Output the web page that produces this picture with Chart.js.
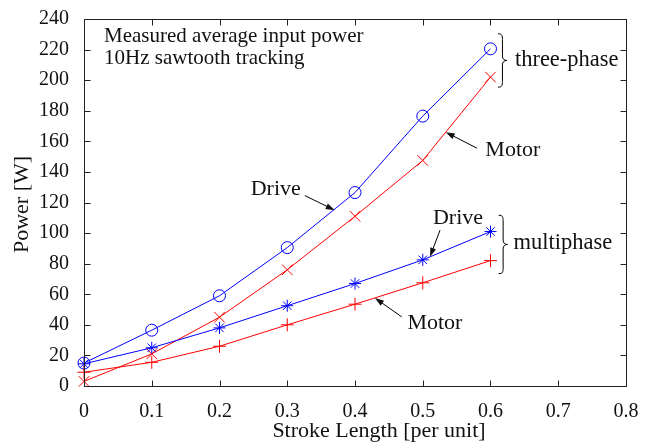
<!DOCTYPE html>
<html>
<head>
<meta charset="utf-8">
<script src="https://cdn.jsdelivr.net/npm/chart.js@4.4.1/dist/chart.umd.min.js"></script>
<style>
  html, body { margin: 0; padding: 0; background: #fff; }
  #wrap { width: 654px; height: 445px; }
</style>
</head>
<body>
<div id="wrap"><canvas id="powerChart" width="654" height="445"></canvas></div>
<script>
const strokeLength = [0, 0.1, 0.2, 0.3, 0.4, 0.5, 0.6];
const threePhaseDrive = [15, 36.5, 59, 90.5, 126.5, 176.5, 220.5];
const threePhaseMotor = [3, 21, 45, 76, 111, 147.5, 202];
const multiphaseDrive = [14.5, 25, 38, 52.5, 67, 82.5, 101];
const multiphaseMotor = [9, 15.5, 26, 40, 53.5, 67.5, 82];

const xTicks = [0, 0.1, 0.2, 0.3, 0.4, 0.5, 0.6, 0.7, 0.8];
const yTicks = [0, 20, 40, 60, 80, 100, 120, 140, 160, 180, 200, 220, 240];

const FONT = '"Liberation Serif", "DejaVu Serif", serif';
const FONT_SIZE = 20;

// annotation texts, arrows and braces (in data units)
const notes = [
    { text: 'Measured average input power', x: 0.0295, y: 228.4, align: 'left', size: 21 },
    { text: '10Hz sawtooth tracking', x: 0.0295, y: 214.2, align: 'left', size: 21 },
    { text: 'Drive', x: 0.283, y: 128.4, align: 'center', size: 22 },
    { text: 'Motor', x: 0.633, y: 154.2, align: 'center', size: 22 },
    { text: 'Drive', x: 0.552, y: 109.7, align: 'center', size: 22 },
    { text: 'Motor', x: 0.518, y: 41.3, align: 'center', size: 22 },
    { text: 'three-phase', x: 0.636, y: 212.9, align: 'left', size: 22.5 },
    { text: 'multiphase', x: 0.634, y: 93.5, align: 'left', size: 22.5 }
];
const arrows = [
    { x0: 0.326, y0: 124.5, x1: 0.37, y1: 115 },
    { x0: 0.58, y0: 155.5, x1: 0.534, y1: 166 },
    { x0: 0.5255, y0: 101.9, x1: 0.5107, y1: 84.5 },
    { x0: 0.469, y0: 45.2, x1: 0.4295, y1: 57.5 }
];
const braces = [
    { x: 0.611, yTop: 230.3, yBottom: 195.5 },
    { x: 0.612, yTop: 111.6, yBottom: 73.5 }
];

function toPoints(values) {
    return strokeLength.map((x, i) => ({ x: x, y: values[i] }));
}

function drawArrow(ctx, x0, y0, x1, y1) {
    const ang = Math.atan2(y1 - y0, x1 - x0);
    const len = 9, half = 3;
    ctx.beginPath();
    ctx.moveTo(x0, y0);
    ctx.lineTo(x1 - Math.cos(ang) * len * 0.8, y1 - Math.sin(ang) * len * 0.8);
    ctx.stroke();
    ctx.beginPath();
    ctx.moveTo(x1, y1);
    ctx.lineTo(x1 - Math.cos(ang) * len - Math.sin(ang) * half, y1 - Math.sin(ang) * len + Math.cos(ang) * half);
    ctx.lineTo(x1 - Math.cos(ang) * len + Math.sin(ang) * half, y1 - Math.sin(ang) * len - Math.cos(ang) * half);
    ctx.closePath();
    ctx.fill();
}

function drawBrace(ctx, x, yTop, yBottom) {
    const mid = (yTop + yBottom) / 2;
    const w = 4.5;
    ctx.beginPath();
    ctx.moveTo(x, yTop);
    ctx.bezierCurveTo(x + w * 0.9, yTop - 0.5, x + w, yTop + 2, x + w, yTop + w + 1);
    ctx.lineTo(x + w, mid - w);
    ctx.quadraticCurveTo(x + w, mid, x + 2 * w, mid);
    ctx.quadraticCurveTo(x + w, mid, x + w, mid + w);
    ctx.lineTo(x + w, yBottom - w - 1);
    ctx.bezierCurveTo(x + w, yBottom - 2, x + w * 0.9, yBottom + 0.5, x, yBottom);
    ctx.stroke();
}

const framePlugin = {
    id: 'frame',
    afterDraw(chart) {
        const ctx = chart.ctx;
        const area = chart.chartArea;
        const xs = chart.scales.x, ys = chart.scales.y;
        const tl = 6;
        ctx.save();
        ctx.strokeStyle = '#222';
        ctx.fillStyle = '#000';
        ctx.lineWidth = 1;
        const L = Math.round(area.left) + 0.5, R = Math.round(area.right) + 0.5;
        const T = Math.round(area.top) + 0.5, B = Math.round(area.bottom) + 0.5;
        ctx.strokeRect(L, T, R - L, B - T);
        ctx.beginPath();
        xTicks.forEach(v => {
            const px = Math.round(xs.getPixelForValue(v)) + 0.5;
            ctx.moveTo(px, B); ctx.lineTo(px, B - tl);
            ctx.moveTo(px, T); ctx.lineTo(px, T + tl);
        });
        yTicks.forEach(v => {
            const py = Math.round(ys.getPixelForValue(v)) + 0.5;
            ctx.moveTo(L, py); ctx.lineTo(L + tl, py);
            ctx.moveTo(R, py); ctx.lineTo(R - tl, py);
        });
        ctx.stroke();

        // axis titles
        ctx.font = '22px ' + FONT;
        ctx.fillStyle = '#111';
        ctx.textAlign = 'center';
        ctx.textBaseline = 'middle';
        ctx.fillText('Stroke Length [per unit]', (area.left + area.right) / 2 + 24, 431);
        ctx.save();
        ctx.translate(22, (area.top + area.bottom) / 2 + 2);
        ctx.rotate(-Math.PI / 2);
        ctx.fillText('Power [W]', 0, 0);
        ctx.restore();

        // annotations
        notes.forEach(n => {
            ctx.font = n.size + 'px ' + FONT;
            ctx.textAlign = n.align;
            ctx.fillText(n.text, xs.getPixelForValue(n.x), ys.getPixelForValue(n.y));
        });
        ctx.strokeStyle = '#000';
        arrows.forEach(a => {
            drawArrow(ctx, xs.getPixelForValue(a.x0), ys.getPixelForValue(a.y0),
                xs.getPixelForValue(a.x1), ys.getPixelForValue(a.y1));
        });
        braces.forEach(b => {
            drawBrace(ctx, xs.getPixelForValue(b.x), ys.getPixelForValue(b.yTop), ys.getPixelForValue(b.yBottom));
        });
        ctx.restore();
    }
};

function series(label, values, color, style, radius) {
    return {
        label: label,
        data: toPoints(values),
        borderColor: color,
        backgroundColor: 'rgba(0,0,0,0)',
        borderWidth: 1,
        pointStyle: style,
        pointRadius: radius,
        pointBorderColor: color,
        pointBorderWidth: 1,
        pointBackgroundColor: 'rgba(0,0,0,0)',
        tension: 0,
        clip: false
    };
}

const ctx = document.getElementById('powerChart').getContext('2d');
const chart = new Chart(ctx, {
    type: 'line',
    data: {
        datasets: [
            series('Multiphase motor', multiphaseMotor, '#ff0000', 'cross', 6.5),
            series('Multiphase drive', multiphaseDrive, '#0000ff', 'star', 6),
            series('Three-phase motor', threePhaseMotor, '#ff0000', 'crossRot', 7.5),
            series('Three-phase drive', threePhaseDrive, '#0000ff', 'circle', 6)
        ]
    },
    options: {
        responsive: false,
        animation: false,
        layout: { padding: { left: 0, right: 28, top: 14, bottom: 0 } },
        plugins: {
            legend: { display: false },
            tooltip: { enabled: false }
        },
        scales: {
            x: {
                type: 'linear',
                min: 0,
                max: 0.8,
                afterBuildTicks: s => { s.ticks = xTicks.map(v => ({ value: v })); },
                afterFit: s => { s.height = 59; },
                grid: { display: false },
                border: { display: false },
                ticks: {
                    color: '#111',
                    padding: 6,
                    font: { family: FONT, size: FONT_SIZE },
                    callback: v => String(v)
                }
            },
            y: {
                type: 'linear',
                min: 0,
                max: 240,
                afterBuildTicks: s => { s.ticks = yTicks.map(v => ({ value: v })); },
                afterFit: s => { s.width = 84; },
                grid: { display: false },
                border: { display: false },
                ticks: {
                    color: '#111',
                    padding: 7,
                    font: { family: FONT, size: FONT_SIZE },
                    callback: v => String(v)
                }
            }
        }
    },
    plugins: [framePlugin]
});
</script>
</body>
</html>
